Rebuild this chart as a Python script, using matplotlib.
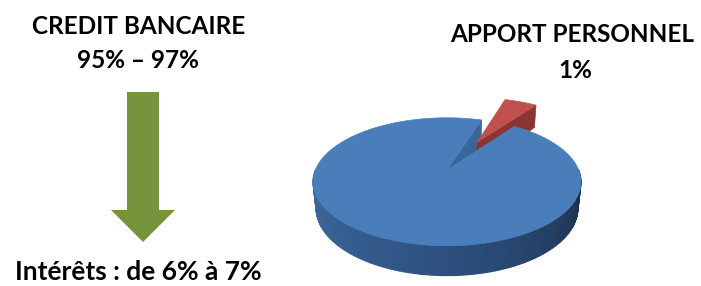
import numpy as np
import matplotlib
matplotlib.use("Agg")
import matplotlib.pyplot as plt
from matplotlib.patches import Polygon, FancyArrow
import matplotlib.colors as mcolors

# ---- data ----
categories = ["Apport personnel", "Crédit bancaire"]
shares = [5, 95]
left_title = ["CREDIT BANCAIRE", "95% – 97%"]
right_title = ["APPORT PERSONNEL", "1%"]
bottom_note = "Intérêts : de 6% à 7%"

# ---- styles ----
TOP_COLORS = ["#c0504d", "#4a7ebb"]
WALL_COLORS = ["#8a3532", "#3a6599"]
SIDE_LEFT = "#416ea3"
SIDE_MID = "#2d5080"
SIDE_RIGHT = "#1b2d45"
ARROW_COLOR = "#77933c"
EXPLODE = [0.55, 0.0]
START_ANGLE = 54.0

W, H = 701, 286
fig = plt.figure(figsize=(W / 100, H / 100), dpi=100)
ax = fig.add_axes([0, 0, 1, 1])
ax.set_xlim(0, W)
ax.set_ylim(H, 0)
ax.axis("off")

# perspective projection of a unit pie
CX, CY = 447, 170
F, L = 632.0, 4.8
ALPHA = np.radians(28)
DEPTH = 0.23


def proj(X, Y, Z):
    X = np.asarray(X, float)
    Y = np.asarray(Y, float)
    Z = np.asarray(Z, float)
    d = L + Y * np.cos(ALPHA) - Z * np.sin(ALPHA)
    u = F * X / d
    v = F * (Y * np.sin(ALPHA) + Z * np.cos(ALPHA)) / d
    return CX + u, CY - v


fracs = np.array(shares, float) / np.sum(shares)
angles = []
a = START_ANGLE
for fr in fracs:
    angles.append((a, a + 360 * fr))
    a += 360 * fr


def offset(i):
    a0, a1 = angles[i]
    mid = np.radians((a0 + a1) / 2)
    return EXPLODE[i] * np.cos(mid), EXPLODE[i] * np.sin(mid)


def top_poly(i):
    a0, a1 = angles[i]
    ox, oy = offset(i)
    t = np.radians(np.linspace(a0, a1, 200))
    X = np.concatenate([[ox], ox + np.cos(t)])
    Y = np.concatenate([[oy], oy + np.sin(t)])
    u, v = proj(X, Y, np.zeros_like(X))
    return np.column_stack([u, v])


def wall_poly(i, ang):
    ox, oy = offset(i)
    t = np.radians(ang)
    X = np.array([ox, ox + np.cos(t), ox + np.cos(t), ox])
    Y = np.array([oy, oy + np.sin(t), oy + np.sin(t), oy])
    Z = np.array([0, 0, -DEPTH, -DEPTH])
    u, v = proj(X, Y, Z)
    return np.column_stack([u, v])


def side_color(theta_deg):
    c_l = np.array(mcolors.to_rgb(SIDE_LEFT))
    c_m = np.array(mcolors.to_rgb(SIDE_MID))
    c_r = np.array(mcolors.to_rgb(SIDE_RIGHT))
    s = (theta_deg - 180) / 180.0
    if s < 0.5:
        return c_l + (c_m - c_l) * (s / 0.5)
    return c_m + (c_r - c_m) * ((s - 0.5) / 0.5)


# blue start wall (visible through the gap)
ax.add_patch(Polygon(wall_poly(1, angles[1][0]), closed=True,
                     facecolor=WALL_COLORS[1], edgecolor=WALL_COLORS[1], lw=0.5))
# red start wall and top
ax.add_patch(Polygon(wall_poly(0, angles[0][0]), closed=True,
                     facecolor=WALL_COLORS[0], edgecolor=WALL_COLORS[0], lw=0.5))
ax.add_patch(Polygon(top_poly(0), closed=True,
                     facecolor=TOP_COLORS[0], edgecolor=TOP_COLORS[0], lw=0.5))

# blue outer front side, with gradient
ts = np.linspace(180, 360, 91)
for k in range(len(ts) - 1):
    t0, t1 = np.radians(ts[k]), np.radians(ts[k + 1])
    X = np.array([np.cos(t0), np.cos(t1), np.cos(t1), np.cos(t0)])
    Y = np.array([np.sin(t0), np.sin(t1), np.sin(t1), np.sin(t0)])
    Z = np.array([0, 0, -DEPTH, -DEPTH])
    u, v = proj(X, Y, Z)
    col = side_color((ts[k] + ts[k + 1]) / 2)
    ax.add_patch(Polygon(np.column_stack([u, v]), closed=True,
                         facecolor=col, edgecolor=col, lw=0.8))

# blue top
ax.add_patch(Polygon(top_poly(1), closed=True,
                     facecolor=TOP_COLORS[1], edgecolor=TOP_COLORS[1], lw=0.5))

# arrow
ax.add_patch(FancyArrow(143, 92, 0, 150, width=32, head_width=64,
                        head_length=32, length_includes_head=True,
                        color=ARROW_COLOR, lw=0))

font = dict(family=["Lato", "DejaVu Sans"], weight="bold", color="black",
            ha="center", va="center")
FS = 17.5
ax.text(139, 27, left_title[0], fontsize=FS, **font)
ax.text(138, 61, left_title[1], fontsize=FS, **font)
ax.text(572, 34, right_title[0], fontsize=FS, **font)
ax.text(575, 71, right_title[1], fontsize=FS, **font)
ax.text(138, 272, bottom_note, fontsize=19, **font)

fig.savefig("out.png", dpi=100)
